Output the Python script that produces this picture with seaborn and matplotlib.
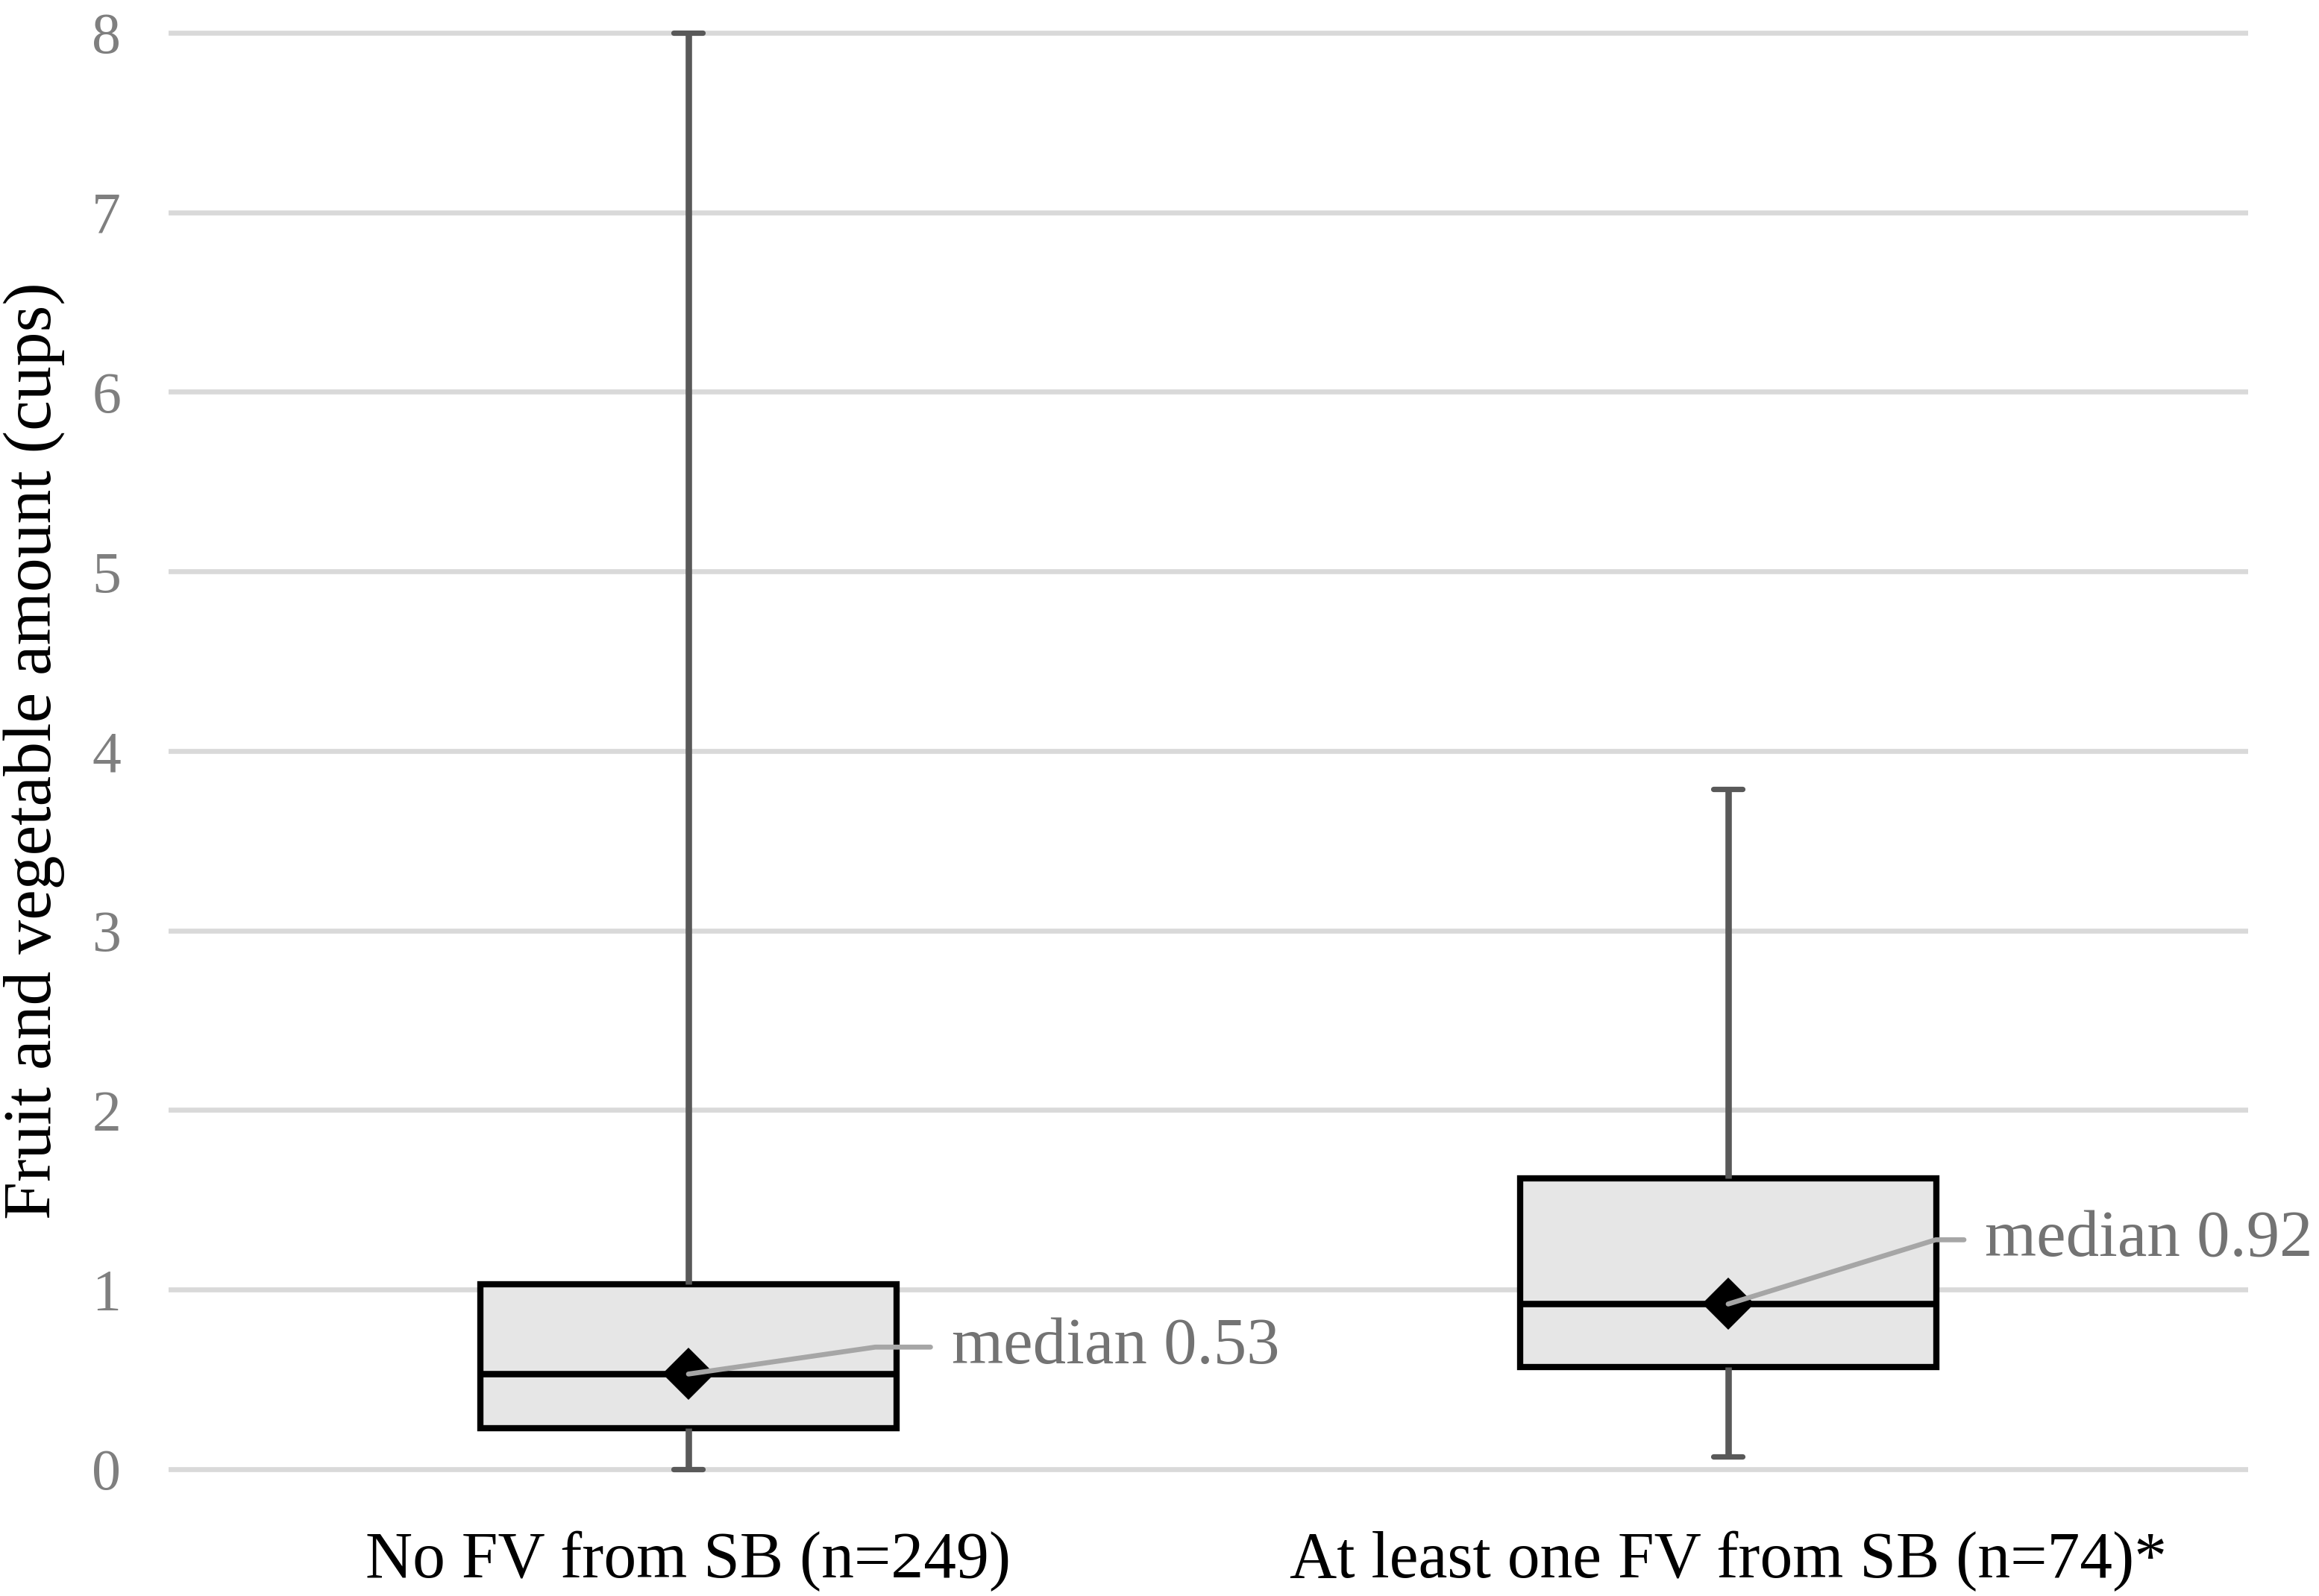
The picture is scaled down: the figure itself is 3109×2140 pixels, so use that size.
import pandas as pd
import matplotlib
matplotlib.use("Agg")
import matplotlib.pyplot as plt
import seaborn as sns

# five-number summaries (min, Q1, median, Q3, max)
groups = ["No FV from SB (n=249)", "At least one FV from SB (n=74)*"]
no_fv = [0.0, 0.23, 0.53, 1.03, 8.0]
fv = [0.07, 0.57, 0.92, 1.62, 3.79]
yticks = [0, 1, 2, 3, 4, 5, 6, 7, 8]

df = pd.DataFrame({
    "group": [groups[0]] * len(no_fv) + [groups[1]] * len(fv),
    "amount": no_fv + fv,
})

sns.set_style("white")
plt.rcParams["font.family"] = ["Liberation Serif", "DejaVu Serif"]

fig = plt.figure(figsize=(15.545, 10.7), dpi=200)
ax = fig.add_axes([0.0727, 0.0682, 0.8967, 0.9225])

sns.boxplot(data=df, x="group", y="amount", order=groups, whis=(0, 100),
            width=0.4, color="#e6e6e6", linecolor="black", linewidth=3.0,
            capwidths=0.028, ax=ax,
            whiskerprops=dict(color="#595959", linewidth=3.1),
            capprops=dict(color="#595959", linewidth=2.6),
            medianprops=dict(color="black", linewidth=3.1))

sns.pointplot(data=df, x="group", y="amount", order=groups, estimator="median",
              errorbar=None, markers="D", linestyles="none", color="black",
              markersize=16, ax=ax, zorder=4)

# leader lines and labels for the medians
medians = df.groupby("group", sort=False)["amount"].median()
offsets = [(127, 13), (124, 31)]
angles = [8.2, 17.2]
for i, g in enumerate(groups):
    m = medians[g]
    ax.annotate(f"median {m:.2f}", xy=(i, m), xytext=offsets[i],
                textcoords="offset points", ha="left", va="center",
                fontsize=32, color="#737373", zorder=6,
                arrowprops=dict(arrowstyle="-", color="#a6a6a6", lw=2.4,
                                shrinkA=8, shrinkB=0, relpos=(0, 0.5),
                                connectionstyle=f"angle,angleA=0,angleB={angles[i]},rad=0"))

ax.set_xlim(-0.5, 1.5)
ax.set_ylim(-0.1, 8.1)
ax.set_yticks(yticks)
ax.yaxis.grid(True, color="#d9d9d9", linewidth=2.4)
ax.set_axisbelow(True)
for s in ax.spines.values():
    s.set_visible(False)

ax.tick_params(axis="y", length=0, pad=23, labelsize=28, labelcolor="#7f7f7f")
ax.tick_params(axis="x", length=0, pad=21, labelsize=31.5, labelcolor="black")
ax.set_xlabel("")
ax.set_ylabel("Fruit and vegetable amount (cups)", fontsize=33, color="black")
ax.yaxis.set_label_coords(-0.05, 0.5)

fig.savefig("out.png", dpi=200)
